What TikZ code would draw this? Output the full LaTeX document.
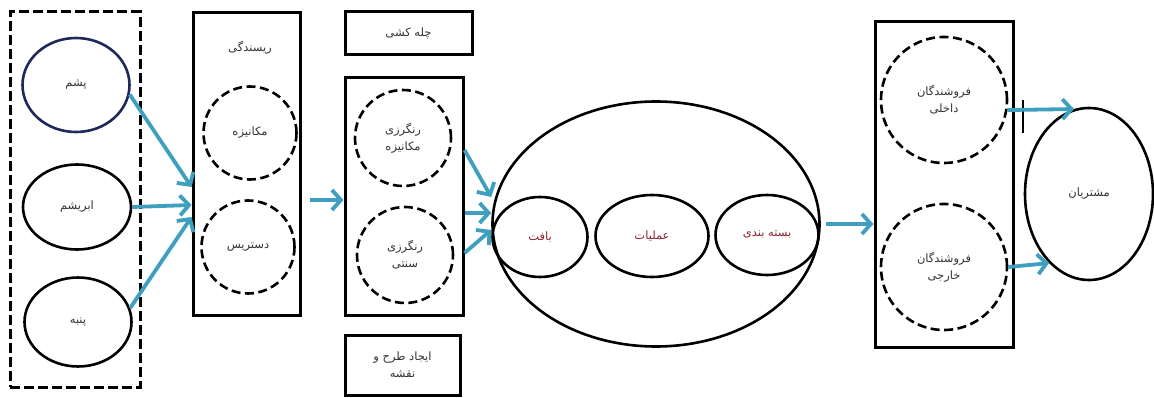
\documentclass[tikz,border=0pt]{standalone}
\usepackage{fontspec}
\newfontfamily\fa[Script=Arabic]{DejaVu Sans}
\TeXXeTstate=1
\usepackage{tikz}
\usetikzlibrary{arrows.meta,shapes.geometric}
\newcommand{\fatxt}[1]{{\fa\beginR #1\endR}}
\definecolor{flowblue}{RGB}{62,160,190}
\definecolor{navy}{RGB}{30,40,90}
\definecolor{wine}{RGB}{140,35,50}

\begin{document}
\begin{tikzpicture}
    [
    x=1pt,y=-1pt,
    every node/.style={font=\fontsize{11.5}{17}\selectfont,text=black!80,align=center},
    src/.style={ellipse,draw,line width=2.6pt,inner sep=0pt},
    stage/.style={circle,draw,dashed,dash pattern=on 9pt off 4.5pt,line width=2.6pt,inner sep=0pt},
    box/.style={rectangle,draw,line width=3pt,inner sep=0pt},
    part/.style={ellipse,draw,line width=2.6pt,inner sep=0pt,text=wine},
    flow/.style={-{Straight Barb[length=9pt,width=20pt]},line width=3.8pt,flowblue}
    ]
\useasboundingbox (0,0) rectangle (1154,398);
% raw materials
\node[box,dashed,dash pattern=on 10pt off 4pt,line width=3pt,minimum width=130pt,minimum height=375pt] (raw) at (75,199.5) {};
\node[src,draw=navy,minimum width=107pt,minimum height=94pt] (wool) at (76,85) {\fatxt{پشم}};
\node[src,minimum width=108pt,minimum height=85pt] (silk) at (77,207) {\fatxt{ابریشم}};
\node[src,minimum width=107pt,minimum height=89pt] (cotton) at (78,322) {\fatxt{پنبه}};
% spinning
\node[box,minimum width=107pt,minimum height=302pt] (spin) at (246.5,164) {};
\node (spintitle) at (250,48) {\fatxt{ریسندگی}};
\node[stage,minimum size=93pt] (spinmech) at (250,133) {\fatxt{مکانیزه}};
\node[stage,minimum size=93pt] (spinhand) at (248,247) {\fatxt{دستریس}};
% dyeing
\node[box,minimum width=127pt,minimum height=43pt] (warp) at (408.5,33.5) {\fatxt{چله کشی}};
\node[box,minimum width=118pt,minimum height=237pt] (dye) at (404,196.5) {};
\node[stage,minimum size=96pt] (dyemech) at (403,138) {\fatxt{رنگرزی}\\\fatxt{مکانیزه}};
\node[stage,minimum size=96pt] (dyetrad) at (405,255) {\fatxt{رنگرزی}\\\fatxt{سنتی}};
\node[box,minimum width=115pt,minimum height=60pt] (design) at (402.5,365) {\fatxt{ایجاد طرح و}\\\fatxt{نقشه}};
% operations
\node[ellipse,draw,line width=2.6pt,minimum width=327pt,minimum height=245pt] (ops) at (656,224) {};
\node[part,minimum width=95pt,minimum height=80pt] (weave) at (540,237) {\fatxt{بافت}};
\node[part,minimum width=113pt,minimum height=82pt] (work) at (652,236) {\fatxt{عملیات}};
\node[part,minimum width=103pt,minimum height=80pt] (pack) at (767,235) {\fatxt{بسته بندی}};
% sellers and customers
\node[box,minimum width=138pt,minimum height=325pt] (sell) at (944,184.5) {};
\node[stage,minimum size=126pt] (dom) at (944,100) {\fatxt{فروشندگان}\\\fatxt{داخلی}};
\node[stage,minimum size=126pt] (ext) at (944,267) {\fatxt{فروشندگان}\\\fatxt{خارجی}};
\node[ellipse,draw,line width=2.6pt,minimum width=128pt,minimum height=172pt] (cust) at (1089,194) {\fatxt{مشتریان}};
\draw[line width=1.4pt] (1023,100) -- (1023,133);
% arrows
\draw[flow] (wool.-10) -- ([yshift=-23pt]spin.west);
\draw[flow] (silk.east) -- ([yshift=-41pt]spin.west);
\draw[flow] (cotton.15) -- ([yshift=-53pt]spin.west);
\draw[flow,shorten <=8pt] ([yshift=-36pt]spin.east) -- ([yshift=-3.5pt]dye.west);
\draw[flow] ([yshift=46.5pt]dye.east) -- ([yshift=27pt]ops.west);
\draw[flow] ([yshift=-16.5pt]dye.east) -- ([yshift=11pt]ops.west);
\draw[flow] ([yshift=-56.5pt]dye.east) -- ([yshift=-6pt]ops.west);
\draw[flow,shorten <=5pt] (ops.east) -- (ops.east -| sell.west);
\draw[flow] (dom.-9) -- (cust.100);
\draw[flow] (ext.east) -- (cust.240);
\end{tikzpicture}
\end{document}
